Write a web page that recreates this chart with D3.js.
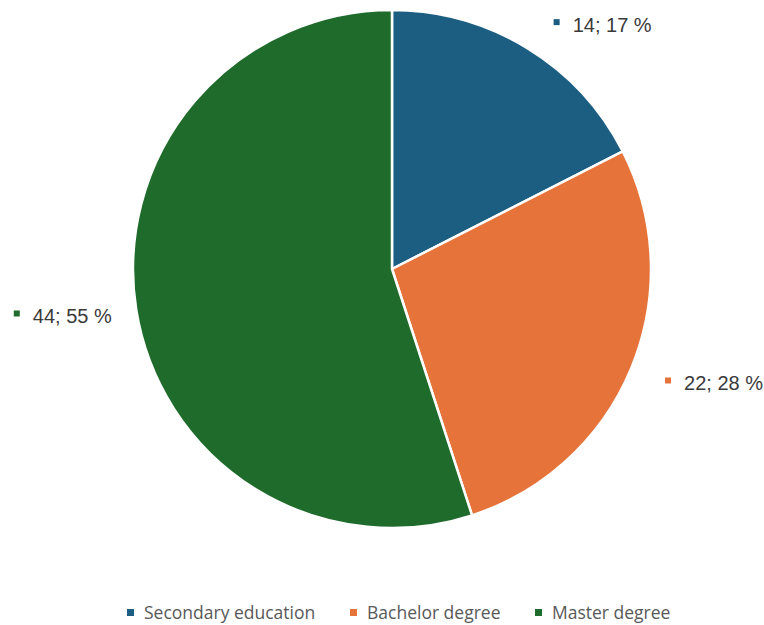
<!DOCTYPE html>
<html>
<head>
<meta charset="utf-8">
<script src="https://d3js.org/d3.v7.min.js"></script>
<style>
  body { margin: 0; background: #fff; }
  svg { display: block; }
  .lbl { font-family: "Liberation Sans", Arial, sans-serif; font-size: 20px; fill: #3a3a3a; }
  .leg { font-family: "Open Sans", "Liberation Sans", sans-serif; font-size: 17.5px; fill: #595959; }
</style>
</head>
<body>
<div id="chart"></div>
<script>
// data
var categories = ["Secondary education", "Bachelor degree", "Master degree"];
var values = [14, 22, 44];
var percentLabels = ["17 %", "28 %", "55 %"];
var colors = ["#1b5e82", "#e6743a", "#1e6b2c"];

var width = 764, height = 625;
var cx = 392, cy = 269, radius = 259;

var svg = d3.select("#chart").append("svg")
    .attr("width", width)
    .attr("height", height);

var pie = d3.pie().sort(null).value(function(d) { return d; });
var arcs = pie(values);
var arc = d3.arc().innerRadius(0).outerRadius(radius);

var g = svg.append("g").attr("transform", "translate(" + cx + "," + cy + ")");

g.selectAll("path.slice")
  .data(arcs)
  .enter().append("path")
    .attr("class", "slice")
    .attr("d", arc)
    .attr("fill", function(d, i) { return colors[i]; })
    .attr("stroke", "#fff")
    .attr("stroke-width", 2.5)
    .attr("stroke-linejoin", "round");

// data labels outside the pie (excel "best fit" look)
var labelAdj = [9, -3, 1];     // degrees off the slice middle
var labelRad = [322, 340, 334];
var labelPos = arcs.map(function(d, i) {
  var a = (d.startAngle + d.endAngle) / 2 + labelAdj[i] * Math.PI / 180;
  return [Math.sin(a) * labelRad[i], -Math.cos(a) * labelRad[i]];
});

var lab = g.selectAll("g.lbl")
  .data(arcs)
  .enter().append("g")
    .attr("transform", function(d, i) { return "translate(" + labelPos[i][0] + "," + labelPos[i][1] + ")"; });

lab.append("text")
    .attr("class", "lbl")
    .attr("x", 11)
    .attr("y", 8)
    .attr("text-anchor", "middle")
    .text(function(d, i) { return values[i] + "; " + percentLabels[i]; });

lab.each(function(d, i) {
  var t = d3.select(this).select("text").node().getBBox();
  d3.select(this).append("rect")
    .attr("x", t.x - 19)
    .attr("y", -5)
    .attr("width", 6)
    .attr("height", 6)
    .attr("fill", colors[i]);
});

// legend
var legX = [127, 350, 535];
var leg = svg.append("g").selectAll("g")
  .data(categories)
  .enter().append("g")
    .attr("transform", function(d, i) { return "translate(" + legX[i] + ",612)"; });

leg.append("rect")
    .attr("x", 0).attr("y", -3)
    .attr("width", 7).attr("height", 7)
    .attr("fill", function(d, i) { return colors[i]; });

leg.append("text")
    .attr("class", "leg")
    .attr("x", 17)
    .attr("y", 7)
    .text(function(d) { return d; });
</script>
</body>
</html>
